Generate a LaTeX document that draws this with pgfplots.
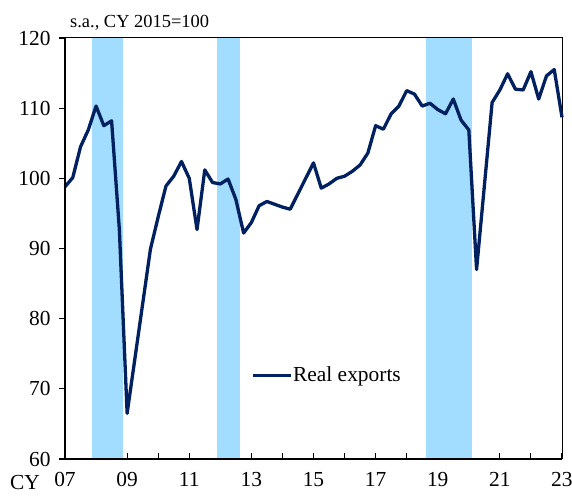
\documentclass[border=0pt]{standalone}
\usepackage{pgfplots}
\pgfplotsset{compat=1.18}
\usepackage{fontspec}
\setmainfont{Liberation Serif}
\definecolor{navy}{HTML}{002060}
\definecolor{shade}{HTML}{A2DCFE}
\begin{document}
\begin{tikzpicture}
\begin{axis}[
  scale only axis,
  width=497bp, height=421bp,
  xmin=2007, xmax=2023, ymin=60, ymax=120,
  xtick={2007,...,2023},
  xticklabels={07,,09,,11,,13,,15,,17,,19,,21,,23},
  ytick={60,70,...,120},
  xtick pos=bottom, ytick pos=left,
  xtick align=inside, ytick align=outside,
  major tick length=6bp,
  tick style={black, line width=1.2bp},
  axis line style={line width=1bp},
  /pgf/number format/assume math mode=true,
  ticklabel style={font=\fontsize{21.5}{24}\selectfont},
  yticklabel style={xshift=-5bp},
  xticklabel style={yshift=-10bp},
  clip=false,
  axis on top=false,
  legend style={draw=none, fill=none, at={(rel axis cs:0.3755,0.199)}, anchor=west,
    inner sep=0pt, nodes={inner sep=0pt, font=\fontsize{21.5}{24}\selectfont},
    /tikz/every even column/.append style={column sep=3bp}},
  legend image code/.code={\draw[#1] (0bp,0bp) -- (38bp,0bp);},
]
\addplot[fill=shade, draw=none, forget plot] coordinates {(2007.88,60) (2008.87,60) (2008.87,120) (2007.88,120)} -- cycle;
\addplot[fill=shade, draw=none, forget plot] coordinates {(2011.88,60) (2012.62,60) (2012.62,120) (2011.88,120)} -- cycle;
\addplot[fill=shade, draw=none, forget plot] coordinates {(2018.62,60) (2020.10,60) (2020.10,120) (2018.62,120)} -- cycle;
\addplot[navy, line width=3.3bp, line join=round, mark=none] table {
x y
2007.00 98.8
2007.25 100.1
2007.50 104.5
2007.75 106.9
2008.00 110.3
2008.25 107.5
2008.50 108.2
2008.75 92.7
2009.00 66.5
2009.25 74.3
2009.50 82.1
2009.75 89.9
2010.00 94.5
2010.25 98.9
2010.50 100.3
2010.75 102.4
2011.00 100.0
2011.25 92.7
2011.50 101.2
2011.75 99.4
2012.00 99.2
2012.25 99.9
2012.50 97.0
2012.75 92.2
2013.00 93.7
2013.25 96.1
2013.50 96.7
2013.75 96.3
2014.00 95.9
2014.25 95.6
2014.50 97.8
2014.75 100.0
2015.00 102.2
2015.25 98.6
2015.50 99.2
2015.75 100.0
2016.00 100.3
2016.25 101.0
2016.50 101.9
2016.75 103.6
2017.00 107.5
2017.25 107.0
2017.50 109.2
2017.75 110.3
2018.00 112.5
2018.25 112.0
2018.50 110.3
2018.75 110.7
2019.00 109.8
2019.25 109.2
2019.50 111.3
2019.75 108.3
2020.00 106.9
2020.25 87.0
2020.50 98.9
2020.75 110.8
2021.00 112.6
2021.25 114.9
2021.50 112.7
2021.75 112.6
2022.00 115.2
2022.25 111.3
2022.50 114.6
2022.75 115.5
2023.00 108.7
};
\addlegendentry{Real exports}
\draw[black, line width=2bp] (rel axis cs:0,1) -- (rel axis cs:0,0) -- (rel axis cs:1,0);
\node[anchor=base west, font=\fontsize{18.5}{20}\selectfont, inner sep=0pt] at ([xshift=5bp,yshift=10bp]rel axis cs:0,1) {s.a., CY 2015=100};
\node[anchor=base west, font=\fontsize{21.5}{24}\selectfont, inner sep=0pt] at ([xshift=-55bp,yshift=-31bp]rel axis cs:0,0) {CY};
\end{axis}
\pgfresetboundingbox
\path[use as bounding box] ([xshift=-65bp,yshift=-37bp]current axis.south west) rectangle ([xshift=10bp,yshift=38bp]current axis.north east);
\end{tikzpicture}
\end{document}
